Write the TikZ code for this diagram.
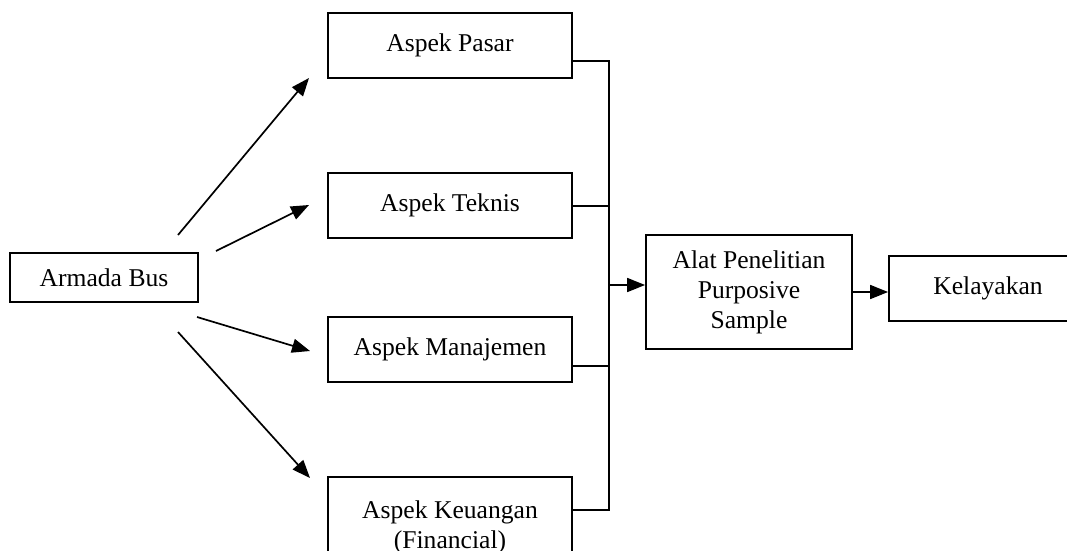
\documentclass[tikz,border=0pt]{standalone}
\usepackage{fontspec}
\setmainfont{Liberation Serif}
\usetikzlibrary{arrows.meta}
\begin{document}
\begin{tikzpicture}[x=1pt,y=-1pt,
  box/.style={draw,line width=1.8pt,rectangle,inner sep=0pt,align=center,
    font=\fontsize{25.6}{30}\selectfont},
  link/.style={line width=1.8pt},
  arr/.style={line width=1.7pt,-{Triangle[length=18pt,width=14pt]}}]
\useasboundingbox (0,0) rectangle (1067,550);

% boxes
\node[box,minimum width=188pt,minimum height=49pt] (bus) at (104,277.5) {Armada Bus};
\node[box,minimum width=244pt,minimum height=65pt] (pasar) at (450,45.5) {Aspek Pasar};
\node[box,minimum width=244pt,minimum height=65pt] (teknis) at (450,205.5) {Aspek Teknis};
\node[box,minimum width=244pt,minimum height=65pt] (manaj) at (450,349.5) {Aspek Manajemen};
\node[box,minimum width=244pt,minimum height=100pt] (keu) at (450,527) {Aspek Keuangan\\(Financial)};
\node[box,minimum width=206pt,minimum height=114pt] (alat) at (749,292) {Alat Penelitian\\Purposive\\Sample};
\node[box,minimum width=198pt,minimum height=65pt] (kel) at (988,288.5) {Kelayakan};

% arrows out of the source box
\coordinate (s1) at (178,235);
\coordinate (s2) at (216,251);
\coordinate (s3) at (197,317);
\coordinate (s4) at (178,332);
\coordinate (e1) at (309,78);
\coordinate (e2) at (309,205);
\coordinate (e3) at (310,351);
\coordinate (e4) at (310,478);
\draw[arr] (s1) -- (e1);
\draw[arr] (s2) -- (e2);
\draw[arr] (s3) -- (e3);
\draw[arr] (s4) -- (e4);

% collecting bar
\coordinate (bartop) at (609,61);
\coordinate (barbot) at (609,510);
\draw[link] ([yshift=-15.5pt]pasar.east) -- (bartop) -- (barbot) -- ([yshift=17pt]keu.east);
\draw[link] ([yshift=-0.5pt]teknis.east) -- ([yshift=-0.5pt]teknis.east -| bartop);
\draw[link] ([yshift=-16.5pt]manaj.east) -- ([yshift=-16.5pt]manaj.east -| bartop);
\draw[arr] ([yshift=7pt]alat.west -| bartop) -- ([yshift=7pt]alat.west);
\draw[arr] (alat.east) -- (alat.east -| kel.west);
\end{tikzpicture}
\end{document}
